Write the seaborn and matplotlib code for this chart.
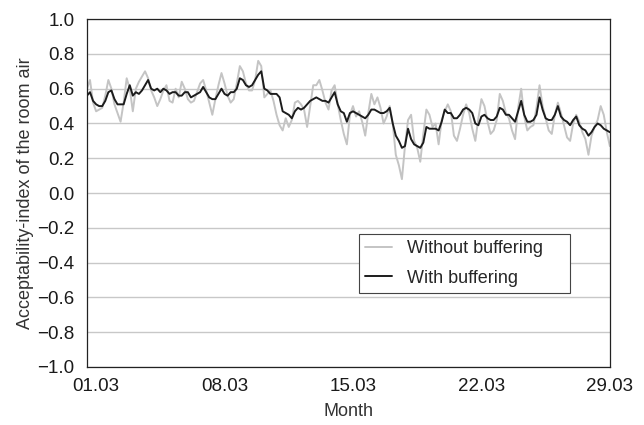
import numpy as np
import pandas as pd
import seaborn as sns
import matplotlib.pyplot as plt
import matplotlib.dates as mdates

# 4-hourly samples, 28.02 12:00 -> 29.03 00:00
start = "2001-02-28 12:00"
freq = "4h"

without_buffering = [
    0.60, 0.65, 0.52, 0.47, 0.48, 0.49, 0.56, 0.65, 0.60, 0.51,
    0.46, 0.41, 0.52, 0.66, 0.60, 0.47, 0.60, 0.64, 0.67, 0.70,
    0.66, 0.59, 0.55, 0.50, 0.54, 0.59, 0.62, 0.53, 0.52, 0.60,
    0.55, 0.64, 0.60, 0.54, 0.52, 0.53, 0.58, 0.63, 0.65, 0.59,
    0.52, 0.45, 0.54, 0.62, 0.69, 0.63, 0.56, 0.52, 0.54, 0.63,
    0.73, 0.70, 0.63, 0.59, 0.59, 0.65, 0.76, 0.73, 0.55, 0.57,
    0.59, 0.53, 0.45, 0.39, 0.36, 0.43, 0.38, 0.42, 0.52, 0.53,
    0.51, 0.48, 0.38, 0.50, 0.62, 0.62, 0.65, 0.59, 0.52, 0.48,
    0.59, 0.62, 0.51, 0.42, 0.34, 0.28, 0.45, 0.50, 0.44, 0.47,
    0.41, 0.33, 0.46, 0.57, 0.51, 0.55, 0.49, 0.40, 0.44, 0.50,
    0.40, 0.22, 0.16, 0.08, 0.27, 0.42, 0.45, 0.30, 0.26, 0.18,
    0.34, 0.48, 0.45, 0.38, 0.40, 0.28, 0.42, 0.47, 0.51, 0.47,
    0.33, 0.30, 0.37, 0.45, 0.51, 0.46, 0.37, 0.30, 0.43, 0.54,
    0.50, 0.41, 0.34, 0.36, 0.42, 0.57, 0.53, 0.46, 0.43, 0.36,
    0.31, 0.49, 0.60, 0.44, 0.36, 0.38, 0.39, 0.49, 0.62, 0.50,
    0.43, 0.36, 0.34, 0.45, 0.52, 0.46, 0.39, 0.32, 0.30, 0.40,
    0.45, 0.41, 0.35, 0.31, 0.22, 0.33, 0.38, 0.42, 0.50, 0.45,
    0.35, 0.27,
]

with_buffering = [
    0.56, 0.58, 0.53, 0.51, 0.50, 0.50, 0.53, 0.58, 0.59, 0.54,
    0.51, 0.51, 0.51, 0.57, 0.62, 0.56, 0.58, 0.57, 0.59, 0.62,
    0.65, 0.60, 0.59, 0.60, 0.58, 0.60, 0.59, 0.57, 0.58, 0.58,
    0.56, 0.56, 0.58, 0.58, 0.55, 0.56, 0.57, 0.58, 0.61, 0.58,
    0.55, 0.54, 0.54, 0.57, 0.60, 0.57, 0.56, 0.58, 0.58, 0.60,
    0.66, 0.65, 0.62, 0.61, 0.62, 0.65, 0.68, 0.70, 0.60, 0.59,
    0.57, 0.57, 0.57, 0.55, 0.47, 0.46, 0.45, 0.43, 0.47, 0.49,
    0.48, 0.49, 0.51, 0.53, 0.54, 0.55, 0.54, 0.53, 0.53, 0.52,
    0.55, 0.58, 0.51, 0.47, 0.46, 0.41, 0.46, 0.47, 0.46, 0.45,
    0.44, 0.43, 0.45, 0.48, 0.48, 0.47, 0.46, 0.46, 0.47, 0.49,
    0.40, 0.33, 0.30, 0.26, 0.27, 0.37, 0.31, 0.28, 0.27, 0.26,
    0.29, 0.38, 0.37, 0.37, 0.37, 0.36, 0.41, 0.48, 0.46, 0.46,
    0.43, 0.43, 0.45, 0.48, 0.49, 0.48, 0.46, 0.40, 0.39, 0.44,
    0.45, 0.43, 0.42, 0.42, 0.44, 0.49, 0.48, 0.45, 0.45, 0.43,
    0.41, 0.47, 0.53, 0.45, 0.41, 0.41, 0.42, 0.45, 0.55, 0.48,
    0.43, 0.42, 0.42, 0.45, 0.50, 0.44, 0.42, 0.41, 0.39, 0.42,
    0.44, 0.39, 0.37, 0.36, 0.33, 0.35, 0.38, 0.40, 0.39, 0.37,
    0.36, 0.35,
]

tick_dates = ["2001-03-01", "2001-03-08", "2001-03-15", "2001-03-22", "2001-03-29"]
y_ticks = [-1.0, -0.8, -0.6, -0.4, -0.2, 0.0, 0.2, 0.4, 0.6, 0.8, 1.0]

times = pd.date_range(start, periods=len(with_buffering), freq=freq)
df = pd.DataFrame({
    "time": np.concatenate([times, times]),
    "value": without_buffering + with_buffering,
    "series": ["Without buffering"] * len(times) + ["With buffering"] * len(times),
})

sns.set_style("white")
plt.rcParams["font.family"] = ["Liberation Sans", "DejaVu Sans"]

fig = plt.figure(figsize=(6.44, 4.25), dpi=100)
ax = fig.add_axes([0.135, 0.1365, 0.812, 0.8185])

sns.lineplot(
    data=df, x="time", y="value", hue="series",
    hue_order=["Without buffering", "With buffering"],
    palette={"Without buffering": "#c4c4c4", "With buffering": "#1c1c1c"},
    linewidth=1.4, ax=ax,
)

ax.set_ylim(-1.0, 1.0)
ax.set_xlim(times[0], times[-1])
ax.set_yticks(y_ticks)
ax.set_xticks(pd.to_datetime(tick_dates))
ax.xaxis.set_major_formatter(mdates.DateFormatter("%d.%m"))
ax.yaxis.grid(True, color="#c8c8c8", linewidth=1.0)
ax.xaxis.grid(False)
ax.tick_params(axis="both", length=0, labelsize=13.5, colors="#1a1a1a")
ax.tick_params(axis="y", pad=9)
ax.tick_params(axis="x", pad=8)
for s in ax.spines.values():
    s.set_color("#222222")
    s.set_linewidth(0.9)

ax.set_xlabel("Month", fontsize=13, color="#333333", labelpad=6)
ax.set_ylabel("Acceptability-index of the room air", fontsize=13, color="#333333", labelpad=2)

# legend box stretched to the reference width
leg = ax.legend(
    loc="lower left", bbox_to_anchor=(0.520, 0.213, 0.403, 0.1), mode="expand",
    borderaxespad=0, fontsize=13, frameon=True, fancybox=False,
    edgecolor="#444444", framealpha=1, handlelength=1.5, handletextpad=0.8,
    borderpad=0.35, labelspacing=0.7,
)
leg.get_frame().set_linewidth(0.8)

fig.savefig("out.png", dpi=100)
